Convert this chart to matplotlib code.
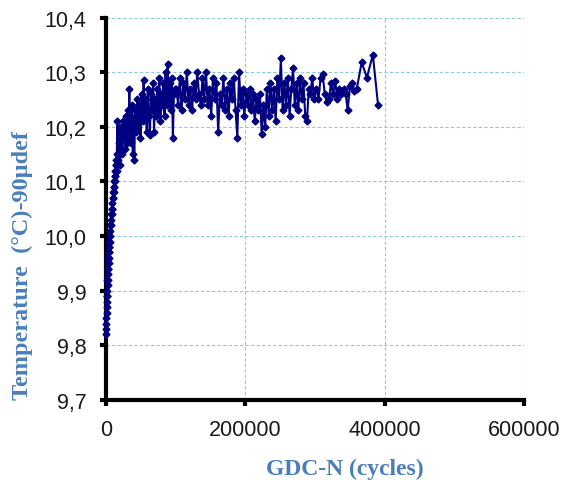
import numpy as np
import matplotlib
matplotlib.use("Agg")
import matplotlib.pyplot as plt
from matplotlib.ticker import FuncFormatter

# GDC cycle counts (thousands of cycles) and measured temperature
cycles_early_k = [0, 0.2, 0.4, 0.6, 0.8, 1.0, 1.2, 1.4, 1.6, 1.8, 2.0, 2.2, 2.4,
                  2.6, 2.8, 3.0, 3.2, 3.4, 3.6, 3.8, 4.0, 4.2, 4.4, 4.6, 4.8]
temp_early = [9.83, 9.82, 9.85, 9.84, 9.87, 9.86, 9.89, 9.88, 9.90, 9.89, 9.92, 9.91, 9.93,
              9.92, 9.94, 9.95, 9.94, 9.96, 9.95, 9.97, 9.96, 9.98, 9.97, 9.99, 9.98]

cycles_rise_k = [5.2, 5.6, 6.0, 6.4, 6.8, 7.2, 7.6, 8.0, 8.4, 8.8, 9.2, 9.6, 10.0, 10.4,
                 10.8, 11.2, 11.6, 12.0, 12.4, 12.8, 13.2, 13.6, 14.0, 14.3, 14.6, 14.9, 15.1, 15.3]
temp_rise = [10.00, 9.99, 10.02, 10.01, 10.03, 10.02, 10.04, 10.05, 10.04, 10.06, 10.05, 10.07,
             10.08, 10.07, 10.09, 10.08, 10.10, 10.09, 10.11, 10.10, 10.12, 10.11, 10.13, 10.12,
             10.14, 10.13, 10.12, 10.14]

cycles_mid_k = [15.5, 16.5, 17.5, 18.5, 19.5, 20.5, 21.5, 22.5, 23.5, 24.5, 25.5, 26.5, 27.5,
                28.5, 29.5, 30.5, 31.5, 32.5, 33.5, 34.5, 35.5, 36.5, 37.5, 38.5, 39.5, 40.5,
                42.0, 43.5, 45.0, 46.5, 48.0, 49.5, 51.0, 52.5, 54.0, 55.5, 57.0, 58.5, 60.0,
                61.5, 63.0, 64.5, 66.0, 67.5, 69.0, 70.5, 72.0, 73.5, 75.0, 76.5, 78.0, 79.5,
                81.0, 82.5, 84.0, 85.5, 87.0, 88.5, 90.0, 91.5, 93.0, 94.5, 96.0, 97.5, 99.0]
temp_mid = [10.15, 10.21, 10.14, 10.17, 10.13, 10.20, 10.16, 10.19, 10.15, 10.21, 10.18, 10.20,
            10.16, 10.22, 10.19, 10.17, 10.23, 10.20, 10.27, 10.18, 10.22, 10.17, 10.24, 10.15,
            10.21, 10.14, 10.23, 10.19, 10.25, 10.20, 10.24, 10.18, 10.26, 10.21, 10.285, 10.22,
            10.25, 10.19, 10.27, 10.22, 10.185, 10.26, 10.23, 10.28, 10.19, 10.25, 10.22, 10.27,
            10.23, 10.29, 10.21, 10.26, 10.24, 10.28, 10.22, 10.30, 10.24, 10.315, 10.25, 10.28,
            10.23, 10.29, 10.18, 10.26, 10.27]

cycles_late_k = [101, 103.5, 106, 108.5, 111, 113.5, 116, 118.5, 121, 123.5, 126, 128.5, 131,
                 133.5, 136, 138.5, 141, 143.5, 146, 148.5, 151, 153.5, 156, 158.5, 161, 163.5,
                 166, 168.5, 171, 173.5, 176, 178.5, 181, 183.5, 186, 188.5, 191, 193.5, 196,
                 198.5, 201, 203.5, 206, 208.5, 211, 213.5, 216, 218.5, 221, 223.5, 226, 228.5,
                 231, 233.5, 236, 238.5, 241, 243.5, 246, 248.5, 251, 253.5, 256, 258.5, 261,
                 263.5, 266, 268.5, 271, 273.5, 276, 278.5, 281, 283.5, 286, 288.5, 291, 293.5,
                 296, 298.5]
temp_late = [10.27, 10.24, 10.29, 10.23, 10.28, 10.25, 10.30, 10.24, 10.27, 10.23, 10.28, 10.25,
             10.30, 10.26, 10.24, 10.29, 10.25, 10.30, 10.24, 10.27, 10.22, 10.29, 10.25, 10.28,
             10.19, 10.26, 10.24, 10.29, 10.23, 10.27, 10.22, 10.28, 10.25, 10.29, 10.23, 10.18,
             10.30, 10.24, 10.27, 10.22, 10.26, 10.24, 10.27, 10.23, 10.26, 10.21, 10.25, 10.23,
             10.26, 10.186, 10.24, 10.20, 10.27, 10.22, 10.28, 10.23, 10.27, 10.21, 10.29, 10.25,
             10.325, 10.23, 10.28, 10.24, 10.29, 10.22, 10.27, 10.307, 10.24, 10.28, 10.23, 10.29,
             10.25, 10.28, 10.22, 10.21, 10.27, 10.26, 10.29, 10.25]

cycles_end_k = [302, 305, 308, 311, 314, 317, 320, 323, 326, 329, 332, 335, 338, 341, 344, 347,
                350, 353, 356, 360, 367, 374.5, 383, 390.5]
temp_end = [10.27, 10.25, 10.29, 10.296, 10.26, 10.245, 10.25, 10.28, 10.26, 10.284, 10.25,
            10.27, 10.26, 10.27, 10.26, 10.23, 10.275, 10.28, 10.265, 10.27, 10.318, 10.29,
            10.332, 10.24]

cycles = np.array(cycles_early_k + cycles_rise_k + cycles_mid_k + cycles_late_k + cycles_end_k) * 1000
temps = np.array(temp_early + temp_rise + temp_mid + temp_late + temp_end)

x_ticks = [0, 200000, 400000, 600000]
y_ticks = [9.7, 9.8, 9.9, 10.0, 10.1, 10.2, 10.3, 10.4]

label_blue = "#4a7ebb"
grid_blue = "#8ccbdc"

fig = plt.figure(figsize=(5.69, 4.81), dpi=100)
ax = fig.add_axes([0.1863, 0.1663, 0.7346, 0.7952])

ax.plot(cycles, temps, color="#000080", lw=1.5, marker="D", markersize=3.5,
        markerfacecolor="#000080", markeredgecolor="#000080", zorder=3, clip_on=False)

ax.set_xlim(0, 600000)
ax.set_ylim(9.7, 10.4)
ax.set_xticks(x_ticks)
ax.set_yticks(y_ticks)
ax.yaxis.set_major_formatter(FuncFormatter(lambda v, p: f"{v:.1f}".replace(".", ",")))
ax.xaxis.set_major_formatter(FuncFormatter(lambda v, p: f"{int(round(v))}"))

ax.grid(True, color=grid_blue, linestyle=(0, (3, 2)), linewidth=0.8, zorder=0)
ax.set_axisbelow(True)

for side in ["top", "right"]:
    ax.spines[side].set_visible(False)
for side in ["left", "bottom"]:
    ax.spines[side].set_linewidth(3)
    ax.spines[side].set_color("black")

ax.tick_params(direction="out", length=4, width=3, color="black",
               labelsize=15.5, labelcolor="#1a1a1a", pad=10)
for lbl in ax.get_xticklabels() + ax.get_yticklabels():
    lbl.set_family("Liberation Sans")

ax.set_xlabel("GDC-N (cycles)", family="Liberation Serif", fontweight="bold",
              fontsize=17, color=label_blue)
ax.set_ylabel("Temperature  (°C)-90µdef", family="Liberation Serif", fontweight="bold",
              fontsize=17.5, color=label_blue)
ax.xaxis.set_label_coords(0.572, -0.15)
ax.yaxis.set_label_coords(-0.175, 0.355)

fig.savefig("out.png", dpi=100)
